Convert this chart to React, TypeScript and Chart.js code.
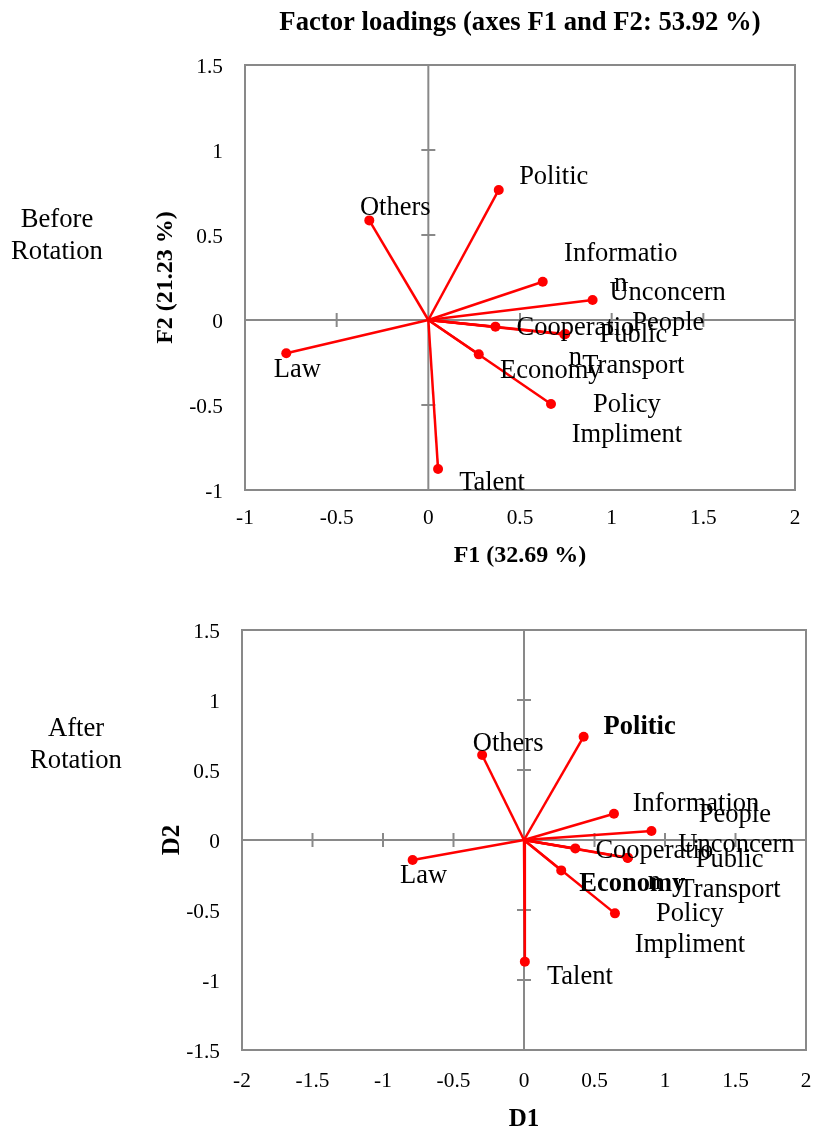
import React, { useEffect, useRef } from 'react';
import { Chart, registerables } from 'chart.js';

Chart.register(...registerables);

// ---------------- data ----------------
const variables = ['Politic', 'Others', 'Information', 'Unconcern', 'Cooperation', 'People', 'Public Transport', 'Economy', 'Policy Impliment', 'Law', 'Talent'];
const beforeLabels = ['Politic', 'Others', 'Informatio\nn', 'Unconcern', 'Cooperatio\nn', 'People', 'Public\nTransport', 'Economy', 'Policy\nImpliment', 'Law', 'Talent'];
const afterLabels = ['Politic', 'Others', 'Information', 'Unconcern', 'Cooperatio\nn', 'People', 'Public\nTransport', 'Economy', 'Policy\nImpliment', 'Law', 'Talent'];
const afterBoldLabels = ['Politic', 'Economy'];

const f1Values = [0.384, -0.322, 0.624, 0.896, 0.366, 0.747, 0.742, 0.275, 0.669, -0.775, 0.053];
const f2Values = [0.765, 0.586, 0.225, 0.118, -0.039, -0.082, -0.085, -0.202, -0.494, -0.196, -0.876];
const d1Values = [0.423, -0.297, 0.638, 0.904, 0.364, 0.737, 0.735, 0.264, 0.645, -0.790, 0.006];
const d2Values = [0.738, 0.607, 0.188, 0.064, -0.060, -0.126, -0.128, -0.217, -0.524, -0.143, -0.869];

const f1Range = [-1, 2];
const f2Range = [-1, 1.5];
const d1Range = [-2, 2];
const d2Range = [-1.5, 1.5];
const tickStep = 0.5;

const chartTitle = 'Factor loadings (axes F1 and F2: 53.92 %)';
const f1Title = 'F1 (32.69 %)';
const f2Title = 'F2 (21.23 %)';
const d1Title = 'D1';
const d2Title = 'D2';

// label placement (pixel offsets from each point, styling only)
const beforeLabelOffsets = [[55, -13], [26, -12], [78, -28], [75, -7], [80, 1], [103, -11], [69, 1], [72, 17], [76, 1], [11, 17], [54, 14]];
const afterLabelOffsets = [[56, -10], [26, -11], [82, -10], [85, 14], [79, 3], [107, -43], [102, 2], [71, 14], [75, 1], [11, 16], [55, 15]];

const SERIF = '"Liberation Serif", "Times New Roman", serif';
const AXIS_GRAY = '#898989';
const RED = '#ff0000';

type Cfg = {
  xs: number[]; ys: number[]; labels: string[]; offsets: number[][]; bold: string[];
  xRange: number[]; yRange: number[];
  area: { left: number; right: number; top: number; bottom: number };
  W: number; H: number;
  title?: string;
  xTitle: string; yTitle: string;
  xTitlePadBottom: number; yTitlePadTop: number;
  xTickPad: number; yTickPad: number;
  axisTitleSize: number;
};

function buildConfig(c: Cfg): any {
  const padLeft = 140;
  const crossAxes = {
    id: 'crossAxes',
    beforeDatasetsDraw(chart: any) {
      const { ctx, chartArea, scales } = chart;
      const { left, right, top, bottom } = chartArea;
      const x = scales.x, y = scales.y;
      ctx.save();
      ctx.strokeStyle = AXIS_GRAY;
      ctx.lineWidth = 2;
      ctx.strokeRect(left, top, right - left, bottom - top);
      const x0 = x.getPixelForValue(0);
      const y0 = y.getPixelForValue(0);
      ctx.beginPath();
      ctx.moveTo(left, y0); ctx.lineTo(right, y0);
      ctx.moveTo(x0, top); ctx.lineTo(x0, bottom);
      x.ticks.forEach((t: any) => {
        if (t.value === 0) return;
        const px = x.getPixelForValue(t.value);
        ctx.moveTo(px, y0 - 7); ctx.lineTo(px, y0 + 7);
      });
      y.ticks.forEach((t: any) => {
        if (t.value === 0) return;
        const py = y.getPixelForValue(t.value);
        ctx.moveTo(x0 - 7, py); ctx.lineTo(x0 + 7, py);
      });
      ctx.stroke();
      ctx.restore();
    },
  };
  const pointLabels = {
    id: 'pointLabels',
    afterDatasetsDraw(chart: any) {
      const { ctx, scales } = chart;
      ctx.save();
      ctx.fillStyle = '#000';
      ctx.textAlign = 'center';
      ctx.textBaseline = 'middle';
      c.labels.forEach((lab, i) => {
        const px = scales.x.getPixelForValue(c.xs[i]);
        const py = scales.y.getPixelForValue(c.ys[i]);
        const isBold = c.bold.includes(variables[i]);
        ctx.font = `${isBold ? 'bold ' : ''}26.5px ${SERIF}`;
        lab.split('\n').forEach((line, j) => {
          ctx.fillText(line, px + c.offsets[i][0], py + c.offsets[i][1] + j * 30.5);
        });
      });
      ctx.restore();
    },
  };
  const tickFont = { family: SERIF, size: 21.33 };
  return {
    type: 'scatter',
    data: {
      datasets: c.xs.map((x, i) => ({
        label: variables[i],
        data: [{ x: 0, y: 0 }, { x, y: c.ys[i] }],
        showLine: true,
        borderColor: RED,
        borderWidth: 2.5,
        backgroundColor: RED,
        pointRadius: [0, 5],
        pointHoverRadius: [0, 5],
        pointBackgroundColor: RED,
        pointBorderColor: RED,
        pointBorderWidth: 0,
        clip: false,
      })),
    },
    options: {
      responsive: false,
      animation: false,
      events: [],
      layout: {
        padding: {
          left: padLeft,
          right: c.W - c.area.right,
          top: c.title ? 0 : c.area.top,
          bottom: 0,
        },
      },
      plugins: {
        legend: { display: false },
        tooltip: { enabled: false },
        title: c.title
          ? {
              display: true,
              text: c.title,
              fullSize: false,
              color: '#000',
              font: { family: SERIF, size: 26.67, weight: 'bold', lineHeight: 1.2 },
              padding: { top: 7, bottom: c.area.top - 32 - 7 },
            }
          : { display: false },
      },
      scales: {
        x: {
          type: 'linear',
          min: c.xRange[0],
          max: c.xRange[1],
          grid: { display: false, drawTicks: false },
          border: { display: false },
          ticks: {
            stepSize: tickStep,
            color: '#000',
            font: tickFont,
            padding: c.xTickPad,
            maxRotation: 0,
            callback: (v: number) => String(v),
          },
          title: {
            display: true,
            text: c.xTitle,
            color: '#000',
            font: { family: SERIF, size: c.axisTitleSize, weight: 'bold', lineHeight: 1.2 },
            padding: { top: 0, bottom: c.xTitlePadBottom },
          },
          afterFit(scale: any) {
            scale.height = c.H - c.area.bottom;
            scale.paddingLeft = 0;
            scale.paddingRight = 0;
          },
        },
        y: {
          type: 'linear',
          min: c.yRange[0],
          max: c.yRange[1],
          grid: { display: false, drawTicks: false },
          border: { display: false },
          ticks: {
            stepSize: tickStep,
            color: '#000',
            font: tickFont,
            padding: c.yTickPad,
            labelOffset: 2,
            callback: (v: number) => String(v),
          },
          title: {
            display: true,
            text: c.yTitle,
            color: '#000',
            font: { family: SERIF, size: c.axisTitleSize, weight: 'bold', lineHeight: 1.2 },
            padding: { top: c.yTitlePadTop, bottom: 0 },
          },
          afterFit(scale: any) {
            scale.width = c.area.left - padLeft;
            scale.paddingTop = 0;
            scale.paddingBottom = 0;
          },
        },
      },
    },
    plugins: [crossAxes, pointLabels],
  };
}

export default function App() {
  const topRef = useRef<HTMLCanvasElement>(null);
  const botRef = useRef<HTMLCanvasElement>(null);

  useEffect(() => {
    const top = new Chart(
      topRef.current as HTMLCanvasElement,
      buildConfig({
        xs: f1Values, ys: f2Values, labels: beforeLabels, offsets: beforeLabelOffsets, bold: [],
        xRange: f1Range, yRange: f2Range,
        area: { left: 245, right: 795, top: 65, bottom: 490 },
        W: 814, H: 580,
        title: chartTitle,
        xTitle: f1Title, yTitle: f2Title,
        xTitlePadBottom: 9.6, yTitlePadTop: 11.6,
        xTickPad: 16, yTickPad: 22,
        axisTitleSize: 24,
      })
    );
    const bot = new Chart(
      botRef.current as HTMLCanvasElement,
      buildConfig({
        xs: d1Values, ys: d2Values, labels: afterLabels, offsets: afterLabelOffsets, bold: afterBoldLabels,
        xRange: d1Range, yRange: d2Range,
        area: { left: 242, right: 806, top: 50, bottom: 470 },
        W: 814, H: 550,
        xTitle: d1Title, yTitle: d2Title,
        xTitlePadBottom: -4.5, yTitlePadTop: 17.6,
        xTickPad: 19, yTickPad: 22,
        axisTitleSize: 25,
      })
    );
    return () => {
      top.destroy();
      bot.destroy();
    };
  }, []);

  const sideText: React.CSSProperties = {
    position: 'absolute',
    left: 0,
    textAlign: 'center',
    fontFamily: SERIF,
    fontSize: 26.67,
    lineHeight: '32px',
    color: '#000',
  };

  return (
    <div style={{ position: 'absolute', left: 0, top: 0, width: 814, height: 1130, background: '#fff', overflow: 'hidden' }}>
      <canvas ref={topRef} width={814} height={580} style={{ position: 'absolute', left: 0, top: 0 }} />
      <canvas ref={botRef} width={814} height={550} style={{ position: 'absolute', left: 0, top: 580 }} />
      <div style={{ ...sideText, top: 202, width: 114 }}>Before<br />Rotation</div>
      <div style={{ ...sideText, top: 711, width: 152 }}>After<br />Rotation</div>
    </div>
  );
}
